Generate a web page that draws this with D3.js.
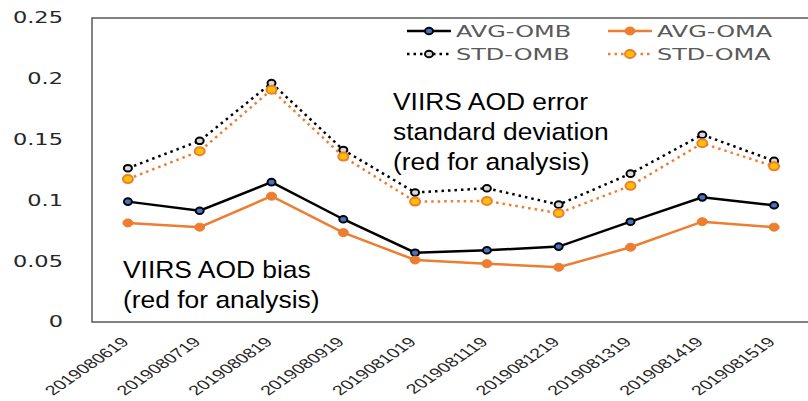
<!DOCTYPE html>
<html>
<head>
<meta charset="utf-8">
<script src="https://cdn.jsdelivr.net/npm/d3@7"></script>
<style>
  html, body { margin: 0; padding: 0; background: #fff; }
  #graph { width: 808px; height: 401px; }
</style>
</head>
<body>
<div id="graph"></div>
<script>
const dates = ["2019080619", "2019080719", "2019080819", "2019080919", "2019081019",
  "2019081119", "2019081219", "2019081319", "2019081419", "2019081519"];
const avgOmb = [0.099, 0.0915, 0.115, 0.0845, 0.057, 0.059, 0.062, 0.0825, 0.1025, 0.096];
const avgOma = [0.0815, 0.078, 0.1035, 0.0735, 0.051, 0.048, 0.045, 0.0615, 0.0825, 0.078];
const stdOmb = [0.1265, 0.149, 0.1965, 0.1415, 0.1065, 0.11, 0.0965, 0.122, 0.154, 0.1325];
const stdOma = [0.1175, 0.1405, 0.191, 0.136, 0.099, 0.0995, 0.0895, 0.112, 0.147, 0.128];
const yTicks = [0, 0.05, 0.1, 0.15, 0.2, 0.25];

const series = [
  { name: "AVG-OMB", values: avgOmb, stroke: "#000000", dash: null, mFill: "#4472c4", mStroke: "#000000", rx: 4, ry: 3.3, mw: 2 },
  { name: "AVG-OMA", values: avgOma, stroke: "#ed7d31", dash: null, mFill: "#ed7d31", mStroke: "#ed7d31", rx: 5, ry: 4, mw: 1 },
  { name: "STD-OMB", values: stdOmb, stroke: "#000000", dash: "2.5,4", mFill: "#d9d9d9", mStroke: "#000000", rx: 4, ry: 3.3, mw: 2 },
  { name: "STD-OMA", values: stdOma, stroke: "#ed7d31", dash: "2.5,4", mFill: "#ffc000", mStroke: "#ed7d31", rx: 5, ry: 4, mw: 2 }
];

const plot = { left: 92, top: 18, right: 810, bottom: 322 };
const stretch = 1.5;

const svg = d3.select("#graph")
  .append("svg")
  .attr("width", 808)
  .attr("height", 401);

const x = d3.scaleBand().domain(dates).range([plot.left, plot.right]);
const xc = d => x(d) + x.bandwidth() / 2;
const y = d3.scaleLinear().domain([0, 0.25]).range([plot.bottom, plot.top]);

// frame
svg.append("path")
  .attr("d", `M 808 ${plot.top} H ${plot.left} V ${plot.bottom} H 808`)
  .attr("fill", "none")
  .attr("stroke", "#595959")
  .attr("stroke-width", 1.5);

// y tick labels
svg.selectAll("text.ytick")
  .data(yTicks)
  .enter()
  .append("text")
  .attr("class", "ytick")
  .attr("transform", d => `translate(63, ${y(d)}) scale(${stretch},1)`)
  .attr("dy", "0.36em")
  .attr("text-anchor", "end")
  .attr("font-family", "DejaVu Sans")
  .attr("font-size", 15)
  .attr("fill", "#262626")
  .text(d => d === 0 ? "0" : String(d));

// x tick labels
svg.selectAll("text.xtick")
  .data(dates)
  .enter()
  .append("text")
  .attr("class", "xtick")
  .attr("transform", d => `translate(${xc(d) + 2}, 343) scale(1.45,1) rotate(-45)`)
  .attr("text-anchor", "end")
  .attr("font-family", "Liberation Sans")
  .attr("font-size", 13.5)
  .attr("fill", "#262626")
  .text(d => d);

// lines
const line = d3.line()
  .x((d, i) => xc(dates[i]))
  .y(d => y(d));

const drawOrder = [2, 3, 0, 1];
drawOrder.forEach(k => {
  const s = series[k];
  svg.append("path")
    .datum(s.values)
    .attr("d", line)
    .attr("fill", "none")
    .attr("stroke", s.stroke)
    .attr("stroke-width", 2.5)
    .attr("stroke-dasharray", s.dash);
});
drawOrder.forEach(k => {
  const s = series[k];
  svg.append("g")
    .selectAll("ellipse")
    .data(s.values)
    .enter()
    .append("ellipse")
    .attr("cx", (d, i) => xc(dates[i]))
    .attr("cy", d => y(d))
    .attr("rx", s.rx)
    .attr("ry", s.ry)
    .attr("fill", s.mFill)
    .attr("stroke", s.mStroke)
    .attr("stroke-width", s.mw);
});

// legend
const legendPos = [
  { x: 407, y: 31 }, { x: 608, y: 31 },
  { x: 407, y: 54 }, { x: 608, y: 54 }
];
series.forEach((s, k) => {
  const p = legendPos[k];
  const g = svg.append("g").attr("transform", `translate(${p.x}, ${p.y})`);
  g.append("line")
    .attr("x1", 0).attr("x2", 44)
    .attr("stroke", s.stroke)
    .attr("stroke-width", 2.5)
    .attr("stroke-dasharray", s.dash);
  g.append("ellipse")
    .attr("cx", 22)
    .attr("rx", s.rx).attr("ry", s.ry)
    .attr("fill", s.mFill)
    .attr("stroke", s.mStroke)
    .attr("stroke-width", s.mw);
  g.append("text")
    .attr("transform", `translate(49, 0) scale(${stretch},1)`)
    .attr("dy", "0.36em")
    .attr("font-family", "DejaVu Sans")
    .attr("font-size", 16)
    .attr("fill", "#595959")
    .text(s.name);
});

// annotations
const notes = [
  { x: 393, y: 110, lines: ["VIIRS AOD error", "standard deviation", "(red for analysis)"] },
  { x: 123, y: 278, lines: ["VIIRS AOD bias", "(red for analysis)"] }
];
notes.forEach(n => {
  const t = svg.append("text")
    .attr("transform", `translate(${n.x}, ${n.y}) scale(1.1,1)`)
    .attr("font-family", "Liberation Sans")
    .attr("font-size", 24)
    .attr("fill", "#000");
  n.lines.forEach((l, i) => {
    t.append("tspan").attr("x", 0).attr("y", i * 30).text(l);
  });
});
</script>
</body>
</html>
